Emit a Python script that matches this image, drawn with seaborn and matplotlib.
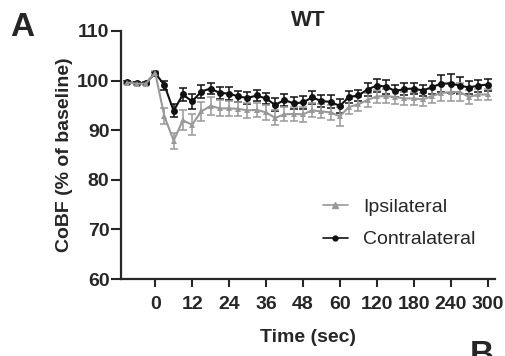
import numpy as np
import pandas as pd
import matplotlib
matplotlib.use("Agg")
import matplotlib.pyplot as plt
import seaborn as sns

# time points (sec); plotted as evenly spaced categories like in Prism
times = [-9, -6, -3, 0, 3, 6, 9, 12, 15, 18, 21, 24, 27, 30, 33, 36, 39, 42, 45,
         48, 51, 54, 57, 60, 75, 90, 105, 120, 135, 150, 165, 180, 195, 210,
         225, 240, 255, 270, 285, 300]
tick_times = [0, 12, 24, 36, 48, 60, 120, 180, 240, 300]

ipsi_mean = [99.6, 99.4, 99.4, 101.6, 92.8, 87.9, 92.0, 91.1, 93.8, 94.9,
             94.4, 94.4, 94.3, 94.0, 94.1, 93.6, 92.5, 93.2, 93.3, 93.2,
             94.0, 93.8, 93.6, 92.8, 94.7, 95.2, 96.1, 96.8, 96.9, 96.7,
             96.4, 96.4, 96.2, 96.9, 97.5, 97.7, 97.7, 96.7, 97.2, 97.2]
ipsi_sem = [0.2, 0.2, 0.2, 0.3, 1.6, 1.6, 2.0, 2.1, 1.9, 1.8,
            1.6, 1.5, 1.4, 1.5, 1.4, 1.5, 1.5, 1.4, 1.4, 1.5,
            1.4, 1.4, 1.5, 1.9, 1.5, 1.4, 1.5, 1.4, 1.4, 1.4,
            1.4, 1.3, 1.4, 1.4, 1.6, 1.9, 1.9, 1.4, 1.2, 1.2]

contra_mean = [99.7, 99.5, 99.5, 101.5, 99.1, 93.9, 97.2, 95.8, 97.8, 98.4,
               97.5, 97.4, 96.8, 96.5, 97.0, 96.4, 95.1, 96.1, 95.4, 95.6,
               96.6, 95.9, 95.7, 94.9, 96.7, 97.0, 98.2, 99.0, 98.8, 97.9,
               98.3, 98.4, 98.0, 98.7, 99.4, 99.4, 99.0, 98.6, 99.0, 99.2]
contra_sem = [0.2, 0.2, 0.2, 0.3, 0.9, 1.3, 1.4, 1.5, 1.3, 1.2,
              1.2, 1.3, 1.2, 1.3, 1.2, 1.2, 1.3, 1.3, 1.2, 1.3,
              1.3, 1.2, 1.3, 1.4, 1.2, 1.2, 1.3, 1.3, 1.4, 1.2,
              1.2, 1.2, 1.2, 1.3, 1.7, 1.9, 1.8, 1.4, 1.2, 1.2]

groups = ["Contralateral", "Ipsilateral"]

pos = np.arange(len(times))
df = pd.concat([
    pd.DataFrame({"pos": pos, "cobf": contra_mean, "sem": contra_sem, "group": "Contralateral"}),
    pd.DataFrame({"pos": pos, "cobf": ipsi_mean, "sem": ipsi_sem, "group": "Ipsilateral"}),
])

sns.set_style("ticks")
plt.rcParams["font.family"] = ["Liberation Sans", "DejaVu Sans"]

colors = {"Contralateral": "#111111", "Ipsilateral": "#999999"}
markers = {"Contralateral": "o", "Ipsilateral": "^"}

fig = plt.figure(figsize=(5.05, 3.56), dpi=100)
ax = fig.add_axes([0.24, 0.216, 0.74, 0.697])

for g in groups:
    d = df[df["group"] == g]
    ax.errorbar(d["pos"], d["cobf"], yerr=d["sem"], fmt="none",
                ecolor=colors[g], elinewidth=1.1, capsize=2.6, capthick=1.1, zorder=2)

sns.lineplot(data=df, x="pos", y="cobf", hue="group", style="group",
             hue_order=groups, style_order=groups, palette=colors,
             markers=markers, dashes=False, markersize=5, linewidth=1.5,
             markeredgewidth=0, ax=ax, zorder=3, legend=False)

ax.set_xlim(-0.68, 39.8)
ax.set_ylim(60, 110)
ax.set_yticks([60, 70, 80, 90, 100, 110])
ax.set_xticks([times.index(t) for t in tick_times])
ax.set_xticklabels([str(t) for t in tick_times])

for s in ["top", "right"]:
    ax.spines[s].set_visible(False)
for s in ["left", "bottom"]:
    ax.spines[s].set_linewidth(1.6)
ax.tick_params(axis="y", direction="out", length=7.5, width=1.5, labelsize=14, pad=1)
ax.tick_params(axis="x", direction="out", length=6, width=1.5, labelsize=14, pad=6)
for lab in ax.get_xticklabels() + ax.get_yticklabels():
    lab.set_fontweight("bold")

ax.set_xlabel("Time (sec)", fontsize=14, fontweight="bold", labelpad=12)
ax.set_ylabel("CoBF (% of baseline)", fontsize=14, fontweight="bold", labelpad=3)
ax.set_title("WT", fontsize=16, fontweight="bold", pad=3)

# legend: Ipsilateral first
handles = [
    plt.Line2D([], [], color=colors["Ipsilateral"], marker="^", markersize=4, linewidth=1.2),
    plt.Line2D([], [], color=colors["Contralateral"], marker="o", markersize=3.5, linewidth=1.2),
]
ax.legend(handles, ["Ipsilateral", "Contralateral"], frameon=False, fontsize=14,
          loc="upper left", bbox_to_anchor=(0.492, 0.395), handlelength=1.3,
          handletextpad=0.8, labelspacing=0.75)

fig.text(0.02, 0.965, "A", fontsize=24, fontweight="bold", va="top", ha="left")
fig.text(0.93, 0.045, "B", fontsize=24, fontweight="bold", va="top", ha="left")

fig.savefig("out.png", dpi=100)
